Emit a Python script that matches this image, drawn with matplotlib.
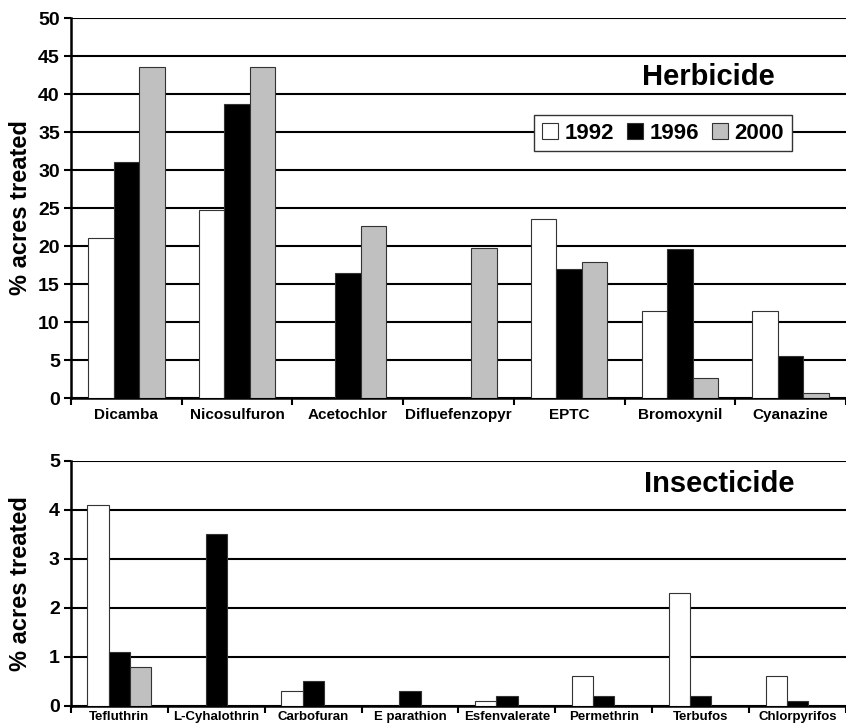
import numpy as np
import matplotlib.pyplot as plt

plt.rcParams['font.family'] = ['Liberation Sans', 'DejaVu Sans']
plt.rcParams['font.weight'] = 'bold'

# данные - гербициды
herb_names = ['Dicamba', 'Nicosulfuron', 'Acetochlor', 'Difluefenzopyr', 'EPTC', 'Bromoxynil', 'Cyanazine']
herb_1992 = [21.0, 24.8, 0, 0, 23.6, 11.4, 11.4]
herb_1996 = [31.0, 38.7, 16.5, 0, 17.0, 19.6, 5.5]
herb_2000 = [43.6, 43.6, 22.7, 19.7, 17.9, 2.7, 0.6]

# данные - инсектициды
ins_names = ['Tefluthrin', 'L-Cyhalothrin', 'Carbofuran', 'E parathion', 'Esfenvalerate', 'Permethrin', 'Terbufos', 'Chlorpyrifos']
ins_1992 = [4.1, 0, 0.3, 0, 0.1, 0.6, 2.3, 0.6]
ins_1996 = [1.1, 3.5, 0.5, 0.3, 0.2, 0.2, 0.2, 0.1]
ins_2000 = [0.8, 0, 0, 0, 0, 0, 0, 0]

years = ['1992', '1996', '2000']
colors = ['white', 'black', '#c0c0c0']

fig = plt.figure(figsize=(8.46, 7.27), dpi=100)
ax1 = fig.add_axes([0.0839, 0.4525, 0.9161, 0.5227])
ax2 = fig.add_axes([0.0839, 0.0293, 0.9161, 0.3366])


def draw(ax, names, series, width, ymax, ystep, label, lx, ly, xfs, xpad):
    n = len(names)
    x = np.arange(n)
    bars = []
    for i, vals in enumerate(series):
        b = ax.bar(x + (i - 1) * width, vals, width, color=colors[i],
                   edgecolor='#333333', linewidth=0.8, zorder=3)
        bars.append(b)
    ax.set_xlim(-0.5, n - 0.5)
    ax.set_ylim(0, ymax)
    ax.set_yticks(np.arange(0, ymax + ystep / 2, ystep))
    ax.yaxis.grid(True, color='black', linewidth=1.5, zorder=0)
    ax.set_axisbelow(True)
    ax.set_xticks(x)
    ax.set_xticklabels(names, fontsize=xfs, fontweight='bold')
    ax.tick_params(axis='x', length=0, pad=xpad)
    ax.set_xticks(np.arange(-0.5, n, 1.0), minor=True)
    ax.tick_params(axis='x', which='minor', length=5, width=1.5, direction='out')
    ax.tick_params(axis='y', length=5, width=1.5, labelsize=14, pad=3)
    for t in ax.get_yticklabels():
        t.set_fontweight('bold')
    for s in ['top', 'right']:
        ax.spines[s].set_visible(False)
    for s in ['left', 'bottom']:
        ax.spines[s].set_linewidth(1.8)
    ax.set_ylabel('% acres treated', fontsize=17, fontweight='bold')
    ax.yaxis.set_label_coords(-0.050, 0.5)  # одинаковое положение подписи на обоих графиках
    ax.text(lx, ly, label, transform=ax.transAxes,
            fontsize=21, fontweight='bold', ha='center', va='center')
    return bars


bars = draw(ax1, herb_names, [herb_1992, herb_1996, herb_2000], 0.23, 50, 5, 'Herbicide', 0.822, 0.845, 11, 7)
draw(ax2, ins_names, [ins_1992, ins_1996, ins_2000], 0.22, 5, 1, 'Insecticide', 0.836, 0.905, 9.5, 3.5)

leg = ax1.legend(bars, years, loc='center', bbox_to_anchor=(0.764, 0.697), ncol=3,
                 prop={'weight': 'bold', 'size': 16}, frameon=True, fancybox=False,
                 handlelength=0.7, handleheight=0.7, handletextpad=0.3, columnspacing=0.6,
                 borderpad=0.35)
leg.get_frame().set_edgecolor('#333333')
leg.get_frame().set_linewidth(1.0)
leg.get_frame().set_alpha(1)

fig.savefig('out.png', dpi=100)
